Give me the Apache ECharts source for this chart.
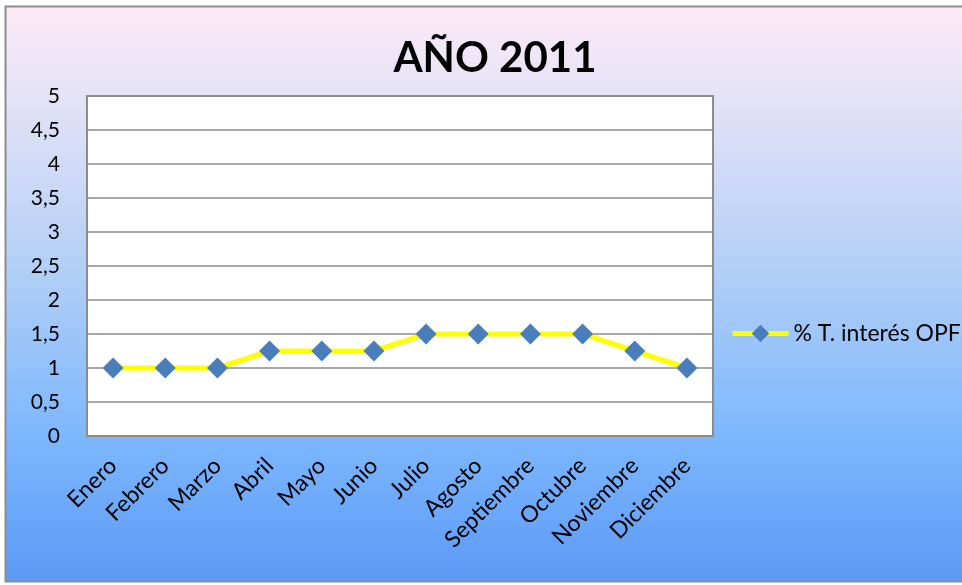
<!DOCTYPE html>
<html>
<head>
<meta charset="utf-8">
<style>
  html, body { margin: 0; padding: 0; background: #ffffff; }
  #chart { width: 962px; height: 585px; }
</style>
<script src="https://cdn.jsdelivr.net/npm/echarts@6/dist/echarts.min.js"></script>
</head>
<body>
<div id="chart"></div>
<script>
// Monthly rate values for 2011
const months = ['Enero', 'Febrero', 'Marzo', 'Abril', 'Mayo', 'Junio', 'Julio',
                'Agosto', 'Septiembre', 'Octubre', 'Noviembre', 'Diciembre'];
const rates = [1, 1, 1, 1.25, 1.25, 1.25, 1.5, 1.5, 1.5, 1.5, 1.25, 1];
const seriesName = '% T. interés OPF';
const yTicks = ['0', '0,5', '1', '1,5', '2', '2,5', '3', '3,5', '4', '4,5', '5'];

const FONT = 'Lato, "Open Sans", sans-serif';

const chart = echarts.init(document.getElementById('chart'), null, { renderer: 'canvas' });

chart.setOption({
  animation: false,
  backgroundColor: '#ffffff',
  graphic: [{
    type: 'rect',
    z: -10,
    silent: true,
    shape: { x: 5.5, y: 6.5, width: 990, height: 575 },
    style: {
      fill: new echarts.graphic.LinearGradient(0, 0, 0, 1, [
        { offset: 0, color: '#fdeaf8' },
        { offset: 0.15, color: '#e6e3f6' },
        { offset: 0.45, color: '#b3d0f6' },
        { offset: 0.75, color: '#7cb7fd' },
        { offset: 1, color: '#5c99f6' }
      ]),
      stroke: '#8c8c8c',
      lineWidth: 2
    }
  }],
  title: {
    text: 'AÑO 2011',
    left: 490,
    top: 32,
    textAlign: 'center',
    textStyle: { fontFamily: FONT, fontWeight: 'bold', fontSize: 42, color: '#000000' }
  },
  legend: {
    left: 730,
    top: 322,
    padding: 0,
    itemWidth: 56,
    itemHeight: 22,
    itemGap: 4,
    lineStyle: { width: 5, color: '#ffff00' },
    textStyle: { fontFamily: FONT, fontSize: 23, color: '#000000' },
    data: [seriesName]
  },
  grid: {
    left: 87,
    top: 96,
    width: 626,
    height: 340,
    show: true,
    backgroundColor: '#ffffff',
    borderColor: '#8c8c8c',
    borderWidth: 2,
    containLabel: false
  },
  xAxis: {
    type: 'category',
    data: months,
    boundaryGap: true,
    axisLine: { show: true, lineStyle: { color: '#8c8c8c', width: 2 } },
    axisTick: { show: false },
    axisLabel: {
      rotate: 45,
      interval: 0,
      margin: 26,
      fontFamily: FONT,
      fontSize: 23,
      color: '#000000'
    }
  },
  yAxis: {
    type: 'value',
    min: 0,
    max: 5,
    interval: 0.5,
    axisLine: { show: true, lineStyle: { color: '#8c8c8c', width: 2 } },
    axisTick: { show: false },
    splitLine: { show: true, lineStyle: { color: '#8c8c8c', width: 1.5 } },
    axisLabel: {
      margin: 27,
      fontFamily: FONT,
      fontSize: 21,
      color: '#000000',
      formatter: function (v) { return yTicks[Math.round(v * 2)]; }
    }
  },
  series: [{
    name: seriesName,
    type: 'line',
    data: rates,
    symbol: 'diamond',
    symbolSize: 21,
    lineStyle: { color: '#ffff00', width: 5 },
    itemStyle: { color: '#4a7ebb' }
  }]
});
</script>
</body>
</html>
